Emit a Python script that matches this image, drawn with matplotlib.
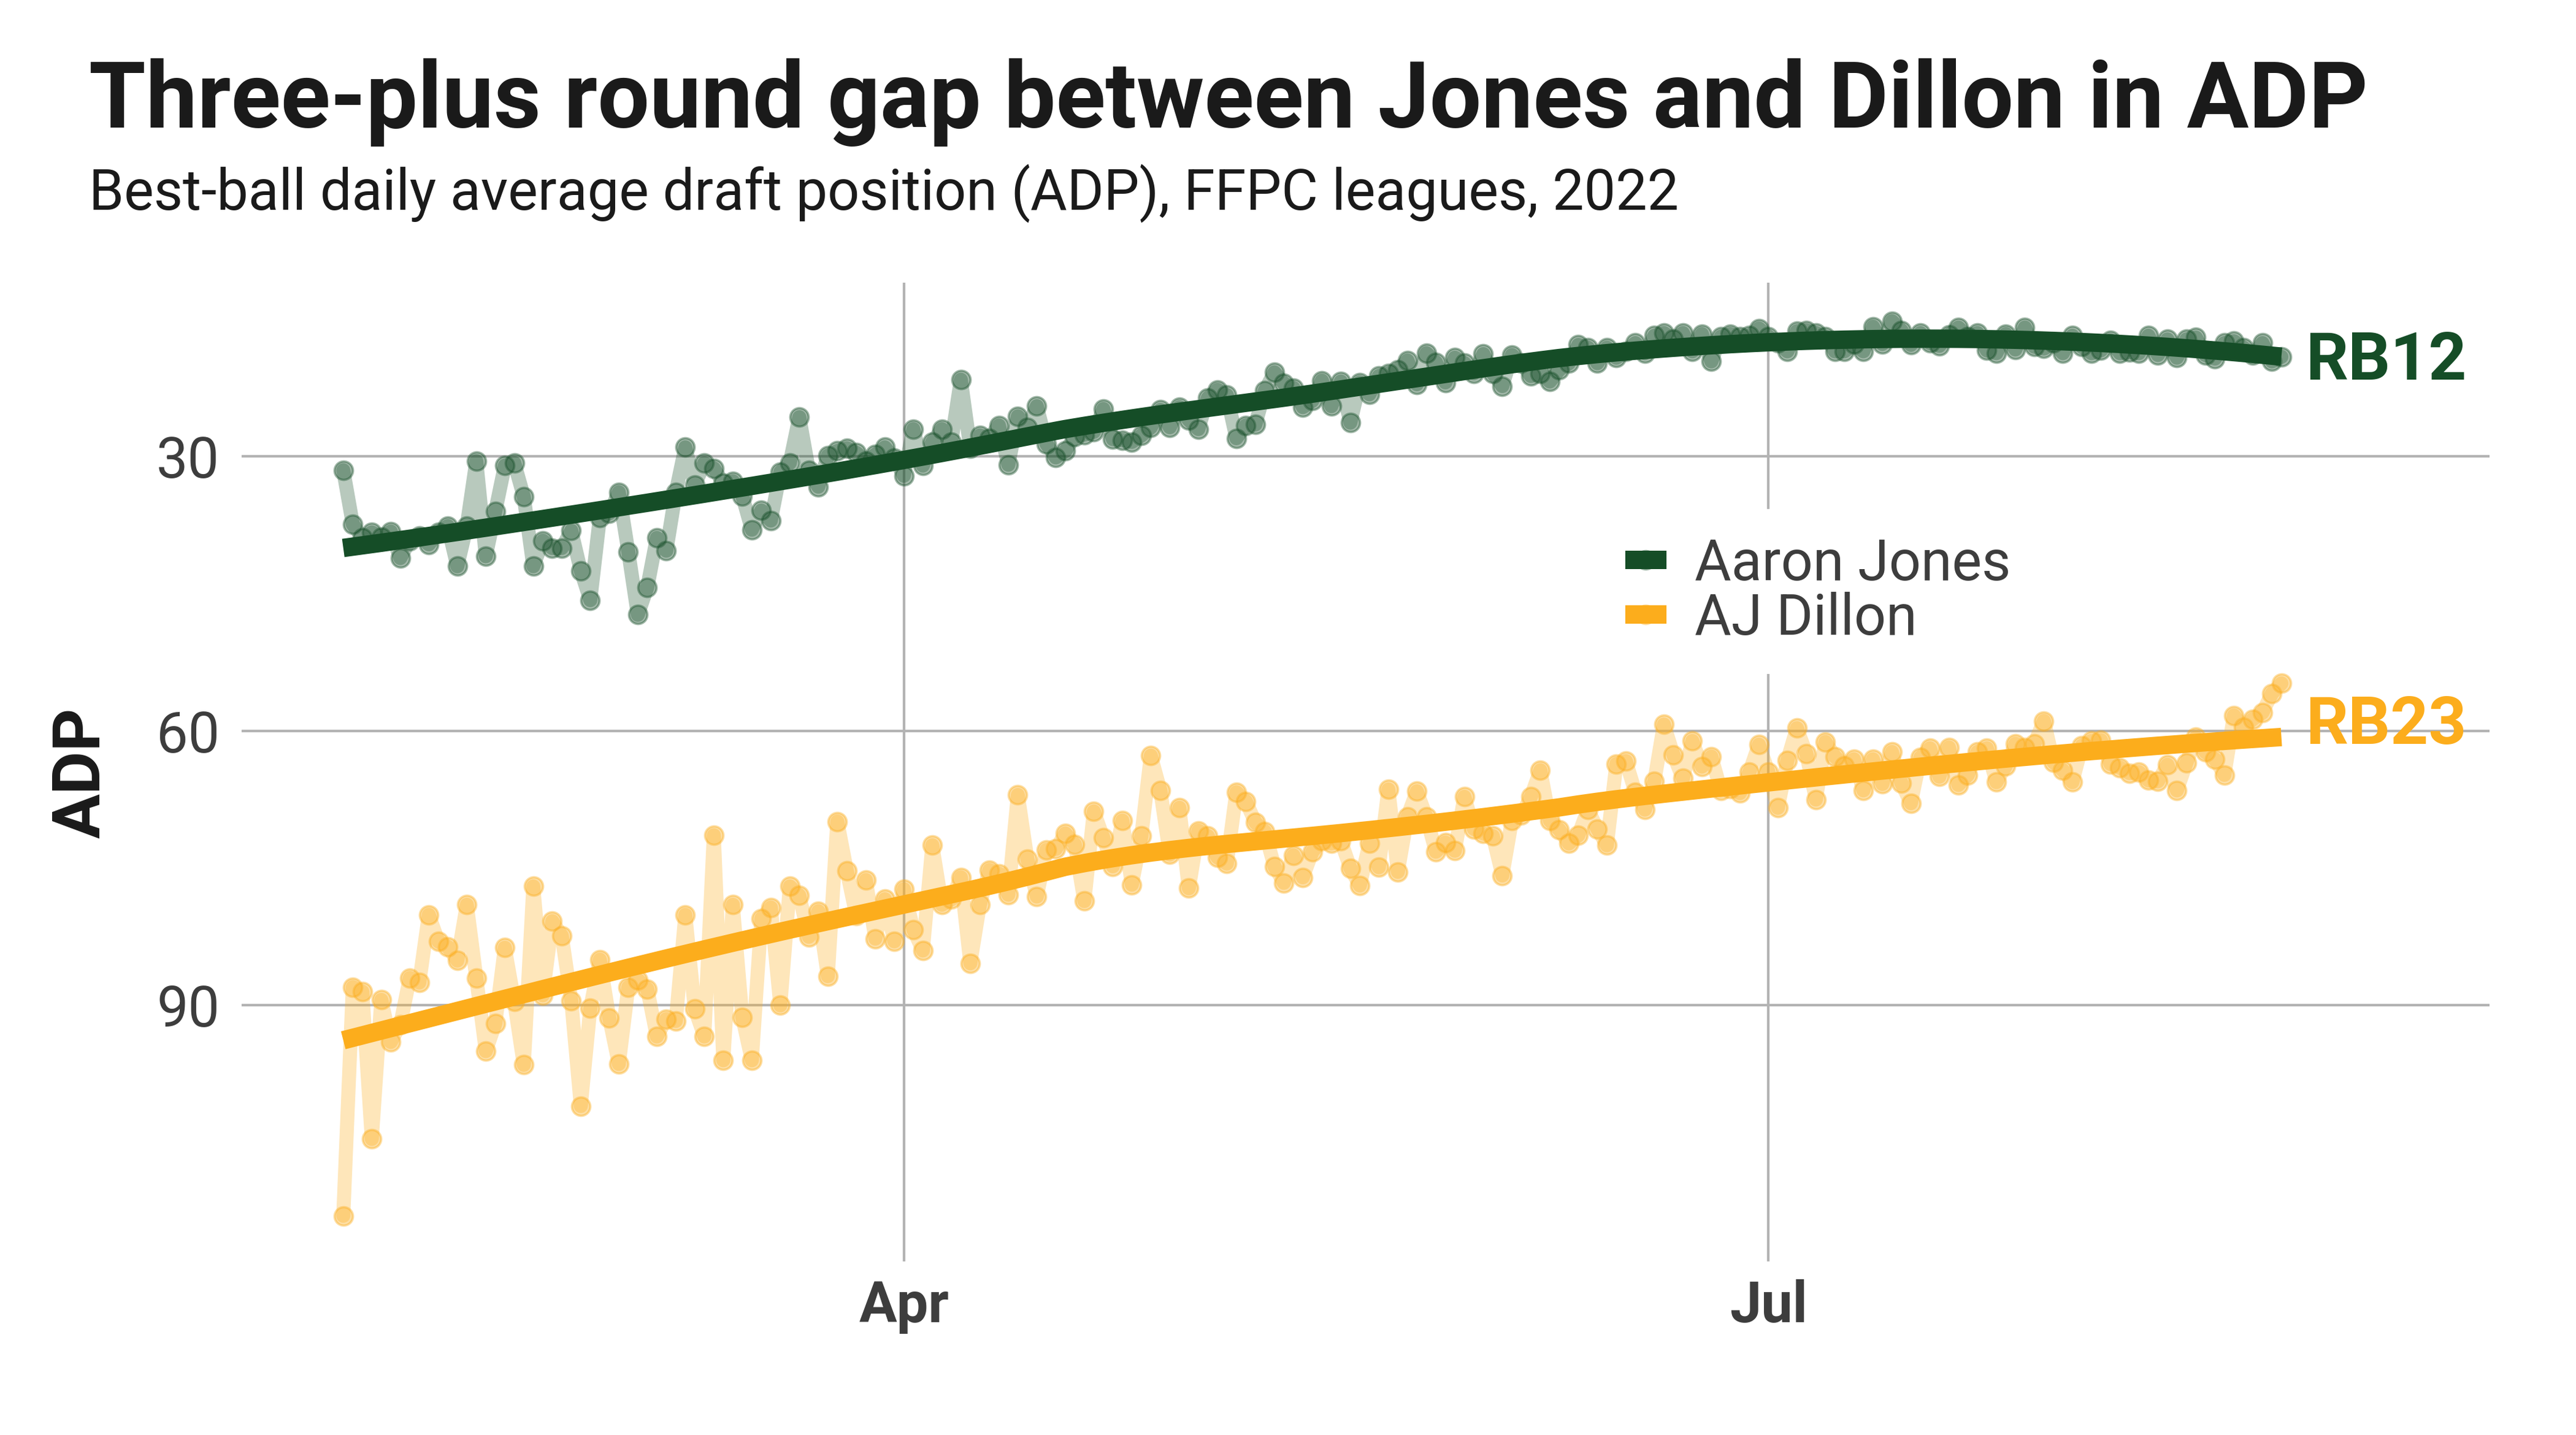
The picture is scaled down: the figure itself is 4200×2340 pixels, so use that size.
import numpy as np
import pandas as pd
import matplotlib
matplotlib.use("Agg")
import matplotlib.pyplot as plt
import matplotlib.dates as mdates
from matplotlib.legend_handler import HandlerTuple

plt.rcParams['font.family'] = ['Roboto', 'DejaVu Sans']

# ---------------- data ----------------
dates = pd.date_range('2022-02-01', periods=205, freq='D')

jones_adp = [
    31.5, 37.4, 38.9, 38.3, 38.8, 38.2, 41.1, 39.2, 38.7, 39.6,
    38.3, 37.6, 42.0, 37.6, 30.5, 40.9, 36.0, 31.0, 30.7, 34.4,
    42.0, 39.2, 40.0, 40.0, 38.1, 42.5, 45.7, 36.7, 36.2, 33.9,
    40.4, 47.3, 44.3, 38.9, 40.3, 33.9, 29.0, 33.1, 30.7, 31.3,
    32.9, 32.7, 34.3, 38.0, 35.9, 37.0, 31.7, 30.7, 25.7, 31.5,
    33.3, 29.9, 29.4, 29.1, 29.6, 30.5, 29.8, 29.0, 30.2, 32.1,
    27.0, 31.0, 28.4, 27.0, 28.4, 21.6, 29.1, 27.7, 28.0, 26.6,
    30.9, 25.6, 26.8, 24.5, 28.6, 30.1, 29.4, 27.8, 27.6, 27.3,
    24.8, 28.1, 28.2, 28.4, 27.7, 26.8, 24.9, 26.8, 24.6, 26.0,
    27.0, 23.6, 22.7, 23.3, 28.0, 26.6, 26.5, 22.8, 20.8, 22.0,
    22.5, 24.6, 23.9, 21.7, 24.5, 21.8, 26.3, 21.9, 23.2, 21.2,
    20.9, 20.5, 19.5, 22.1, 18.7, 19.7, 21.9, 19.2, 19.8, 20.9,
    18.8, 20.9, 22.3, 18.9, 19.8, 21.2, 20.9, 21.8, 20.5, 19.8,
    17.8, 18.1, 19.8, 18.1, 19.2, 18.5, 17.6, 18.7, 16.8, 16.5,
    17.2, 16.5, 18.5, 16.6, 19.6, 16.9, 16.6, 16.9, 16.8, 16.0,
    16.9, 17.6, 18.5, 16.3, 16.2, 16.5, 16.9, 18.5, 18.5, 17.7,
    18.5, 15.8, 17.7, 15.2, 16.2, 17.8, 16.5, 17.6, 17.9, 16.7,
    15.9, 16.9, 16.5, 18.4, 18.7, 16.6, 18.3, 15.9, 18.0, 18.2,
    17.6, 18.7, 16.8, 18.0, 18.7, 18.4, 17.3, 18.7, 18.6, 18.7,
    16.8, 18.9, 17.2, 19.2, 17.2, 17.0, 18.9, 19.3, 17.6, 17.4,
    18.1, 18.9, 17.6, 19.6, 19.1,
]

dillon_adp = [
    113.0, 88.0, 88.5, 104.6, 89.4, 94.0, 92.1, 87.0, 87.5, 80.1,
    83.0, 83.6, 85.1, 79.0, 87.0, 95.0, 92.0, 83.7, 89.6, 96.5,
    77.0, 88.9, 80.8, 82.4, 89.5, 101.0, 90.3, 85.0, 91.4, 96.4,
    88.0, 87.2, 88.2, 93.4, 91.5, 91.7, 80.1, 90.4, 93.4, 71.4,
    96.0, 79.0, 91.3, 96.0, 80.5, 79.3, 90.0, 77.0, 78.0, 82.5,
    79.7, 86.8, 69.9, 75.3, 80.2, 76.3, 82.7, 78.4, 83.0, 77.3,
    81.7, 84.0, 72.5, 79.0, 78.4, 76.0, 85.4, 79.0, 75.2, 75.6,
    77.9, 67.0, 74.0, 78.1, 73.0, 72.9, 71.2, 72.4, 78.6, 68.8,
    71.7, 74.8, 69.8, 76.8, 71.5, 62.7, 66.5, 73.5, 68.4, 77.2,
    70.9, 71.5, 73.8, 74.5, 66.7, 67.7, 70.0, 71.0, 74.8, 76.6,
    73.6, 76.0, 73.2, 72.0, 72.3, 72.0, 75.0, 76.9, 72.3, 74.9,
    66.4, 75.4, 69.4, 66.6, 69.4, 73.2, 72.2, 73.1, 67.2, 70.7,
    71.2, 71.5, 75.8, 69.8, 69.2, 67.2, 64.3, 69.8, 70.8, 72.3,
    71.4, 68.6, 70.7, 72.5, 63.6, 63.3, 66.7, 68.6, 65.5, 59.3,
    62.6, 65.2, 61.1, 63.9, 62.8, 66.5, 66.3, 66.8, 64.5, 61.5,
    64.5, 68.4, 63.2, 59.7, 62.5, 67.5, 61.2, 62.8, 63.8, 63.1,
    66.5, 63.1, 65.8, 62.3, 65.7, 67.9, 62.9, 61.9, 65.0, 61.8,
    65.9, 64.8, 62.3, 61.9, 65.6, 63.8, 61.4, 61.8, 61.4, 58.9,
    63.4, 64.3, 65.6, 61.6, 61.1, 61.0, 63.6, 64.0, 64.6, 64.5,
    65.4, 65.5, 63.7, 66.5, 63.5, 60.7, 62.3, 63.1, 64.8, 58.3,
    59.6, 58.7, 58.0, 55.9, 54.8,
]

players = ['Aaron Jones', 'AJ Dillon']
end_labels = ['RB12', 'RB23']
y_ticks = [30, 60, 90]
x_tick_dates = ['2022-04-01', '2022-07-01']

title = 'Three-plus round gap between Jones and Dillon in ADP'
subtitle = 'Best-ball daily average draft position (ADP), FFPC leagues, 2022'

# ---------------- style ----------------
colors = ['#154D27', '#FCAD1C']
label_baseline = [21.56, 61.4]   # y position (data units) of the end-label baselines
text_dark = '#1a1a1a'
text_grey = '#3d3d3d'
grid_col = '#b3b3b3'


def loess(x, y, span=0.75, degree=2):
    x = np.asarray(x, float)
    y = np.asarray(y, float)
    n = len(x)
    q = int(np.floor(n * span))
    out = np.empty(n)
    for i, x0 in enumerate(x):
        d = np.abs(x - x0)
        h = np.sort(d)[q - 1]
        w = np.clip(1 - (d / h) ** 3, 0, None) ** 3
        X = np.vander(x - x0, degree + 1)
        sw = np.sqrt(w)
        coef, *_ = np.linalg.lstsq(X * sw[:, None], y * sw, rcond=None)
        out[i] = coef[-1]
    return out


fig = plt.figure(figsize=(14, 7.8), dpi=300)
ax = fig.add_axes([0.0938, 0.1209, 0.9664 - 0.0938, 0.8030 - 0.1209])

xnum = mdates.date2num(dates)
xrel = xnum - xnum[0]

handles = []
for series, col, name in zip([jones_adp, dillon_adp], colors, players):
    ax.plot(xnum, series, color=col, alpha=0.3, lw=5.5,
            solid_joinstyle='round', solid_capstyle='round', zorder=2)
    pts, = ax.plot(xnum, series, ls='none', marker='o', ms=7.2, mew=0.9,
                   mfc=col, mec=col, alpha=0.4, zorder=3)
    trend = loess(xrel, series)
    ln, = ax.plot(xnum, trend, color=col, lw=7.2, solid_capstyle='butt', zorder=4)
    handles.append((pts, ln))

for lab, col, yb in zip(end_labels, colors, label_baseline):
    ax.annotate(lab, xy=(xnum[-1], yb), xytext=(9.4, 0), textcoords='offset points',
                ha='left', va='baseline', fontsize=26, fontweight='bold', color=col,
                zorder=5)

# axes
ax.set_ylim(118, 11)
ax.set_xlim(xnum[0] - 10.7, xnum[0] + 225.9)
ax.set_yticks(y_ticks)
ax.set_yticklabels([str(v) for v in y_ticks])
tick_pos = mdates.date2num(pd.to_datetime(x_tick_dates))
ax.set_xticks(tick_pos, labels=[pd.Timestamp(d).strftime('%b') for d in x_tick_dates],
              fontweight='bold')
ax.tick_params(axis='both', length=0, labelsize=22, colors=text_grey)
ax.tick_params(axis='y', pad=8.6)
ax.tick_params(axis='x', pad=7)
for s in ax.spines.values():
    s.set_visible(False)
ax.grid(True, color=grid_col, lw=1.0)
ax.set_axisbelow(True)

leg = ax.legend(handles, players, handler_map={tuple: HandlerTuple(ndivide=1)},
                loc='center left', bbox_to_anchor=(0.62, 0.5878),
                bbox_transform=fig.transFigure, borderaxespad=0,
                fontsize=22, labelcolor=text_grey, handlelength=0.73,
                handletextpad=0.5, borderpad=0.5, labelspacing=0.0,
                frameon=True, facecolor='white', edgecolor='none',
                framealpha=1, fancybox=False)
leg.set_zorder(6)

fig.text(0.0318, 0.4615, 'ADP', rotation=90, ha='center', va='center',
         fontsize=26, fontweight='bold', color=text_dark)
fig.text(0.0345, 0.9111, title, ha='left', va='baseline', fontsize=36,
         fontweight='bold', color=text_dark)
fig.text(0.0345, 0.8538, subtitle, ha='left', va='baseline', fontsize=22,
         color=text_dark)

fig.savefig('out.png', dpi=300, facecolor='white')
